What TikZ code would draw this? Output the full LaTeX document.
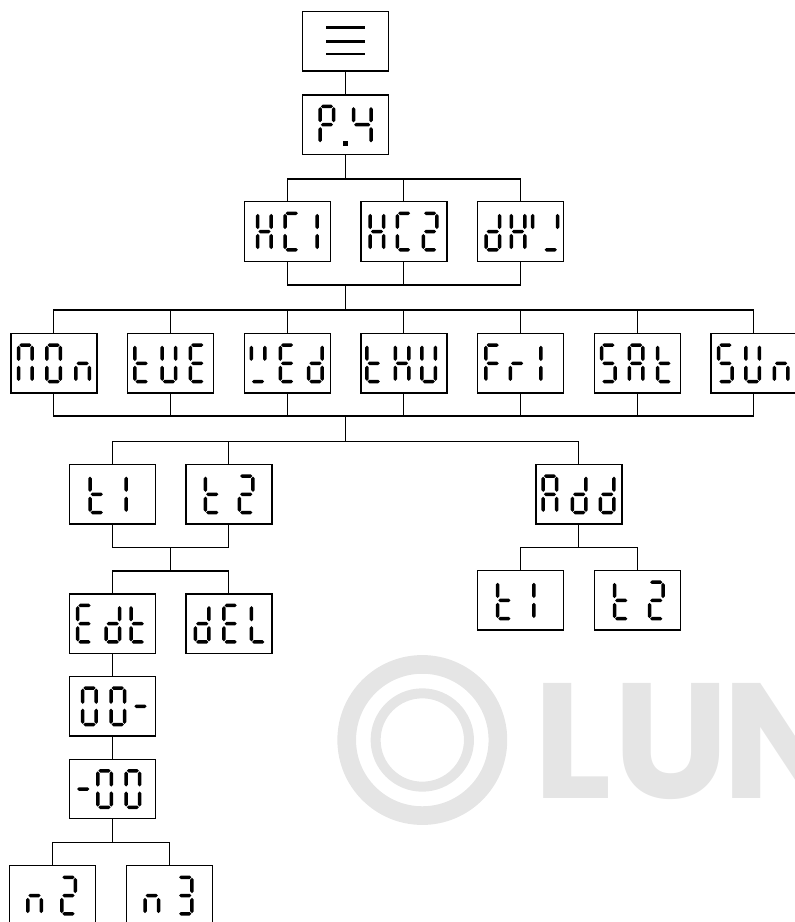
\documentclass[tikz,border=0pt]{standalone}
\usepackage{fontspec}
\newfontfamily\logofont{Poppins}
\usetikzlibrary{positioning, calc}
\tikzset{
    dispbox/.style={rectangle, draw, line width=1pt, minimum width=64.5pt, minimum height=44.6pt, inner sep=0pt},
    link/.style={line width=0.8pt},
    wmark/.style={draw=black!10},
    wmtext/.style={text=black!10, inner sep=0pt, anchor=base west, font=\logofont\bfseries\fontsize{123}{123}\selectfont}
}

% seven segment glyphs (reference pixels, relative to the box centre)
\def\segh{1.75}   % half stroke
\def\seggap{2.4}  % gap at the segment ends
\newcommand{\hseg}[3]{\fill ({#1},{#3}) -- ({#1+\segh},{#3-\segh}) -- ({#2-\segh},{#3-\segh}) -- ({#2},{#3}) -- ({#2-\segh},{#3+\segh}) -- ({#1+\segh},{#3+\segh}) -- cycle;}
\newcommand{\vseg}[3]{\fill ({#1},{#2}) -- ({#1+\segh},{#2+\segh}) -- ({#1+\segh},{#3-\segh}) -- ({#1},{#3}) -- ({#1-\segh},{#3-\segh}) -- ({#1-\segh},{#2+\segh}) -- cycle;}
\newcommand{\ssa}{\hseg{\gL+\seggap}{\gR-\seggap}{-20+\segh}}
\newcommand{\ssd}{\hseg{\gL+\seggap}{\gR-\seggap}{20-\segh}}
\newcommand{\ssg}{\hseg{\gL+\seggap}{\gR-\seggap}{0}}
\newcommand{\ssf}{\vseg{\gL+\segh}{-20+\seggap}{-\seggap}}
\newcommand{\sse}{\vseg{\gL+\segh}{\seggap}{20-\seggap}}
\newcommand{\ssb}{\vseg{\gR-\segh}{-20+\seggap}{-\seggap}}
\newcommand{\ssc}{\vseg{\gR-\segh}{\seggap}{20-\seggap}}
% #1 left edge, #2 width, #3 segments
\newcommand{\glyph}[3]{\pgfmathsetmacro\gL{#1}\pgfmathsetmacro\gR{#1+#2}\foreach \sg in {#3}{\csname ss\sg\endcsname}}
\newcommand{\dgZero}[1]{\glyph{#1}{17}{a,b,c,d,e,f}}
\newcommand{\dgOne}[1]{\glyph{#1}{4}{b,c}}
\newcommand{\dgTwo}[1]{\glyph{#1}{17}{a,b,d,e,g}}
\newcommand{\dgThree}[1]{\glyph{#1}{17}{a,b,c,d,g}}
\newcommand{\dgFour}[1]{\glyph{#1}{21}{b,c,f,g}}
\newcommand{\dgA}[1]{\glyph{#1}{17}{a,b,c,e,f,g}}
\newcommand{\dgC}[1]{\glyph{#1}{17}{a,d,e,f}}
\newcommand{\dgd}[1]{\glyph{#1}{17}{b,c,d,e,g}}
\newcommand{\dgE}[1]{\glyph{#1}{17}{a,d,e,f,g}}
\newcommand{\dgF}[1]{\glyph{#1}{17}{a,e,f,g}}
\newcommand{\dgH}[1]{\glyph{#1}{17}{b,c,e,f,g}}
\newcommand{\dgL}[1]{\glyph{#1}{17}{d,e,f}}
\newcommand{\dgM}[1]{\glyph{#1}{17}{a,b,c,e,f}}
\newcommand{\dgn}[1]{\glyph{#1}{17}{c,e,g}}
\newcommand{\dgP}[1]{\glyph{#1}{17}{a,b,e,f,g}}
\newcommand{\dgr}[1]{\glyph{#1}{17}{e,g}}
\newcommand{\dgS}[1]{\glyph{#1}{17}{a,c,d,f,g}}
\newcommand{\dgt}[1]{\glyph{#1}{17}{d,e,f,g}}
\newcommand{\dgU}[1]{\glyph{#1}{17}{b,c,d,e,f}}
\newcommand{\dgW}[1]{\glyph{#1}{17}{b,d,f}}
\newcommand{\dgDash}[1]{\glyph{#1}{17}{g}}
\newcommand{\dgDot}[1]{\fill (#1,16.6) rectangle ++(5.3,4.4);}
\newcommand{\disp}[2]{\begin{scope}[shift={(#1.center)}]#2\end{scope}}

\begin{document}
\begin{tikzpicture}[x=0.75pt, y=-0.75pt]
    \useasboundingbox (0,0) rectangle (794,922);
    \def\cx{345.6}
    \def\u{58.33}

    % Watermark
    \draw[wmark, line width=14pt] (422.3,740) circle [radius=56.7pt];
    \draw[wmark, line width=7.5pt] (422.3,740) circle [radius=35pt];
    \node (wmL) [wmtext] at (533,798) {L};
    \node (wmU) [wmtext] at (613,798) {U};
    \node (wmN) [wmtext] at (722,798) {N};

    % Menu and parameter
    \node (menu) [dispbox] at (\cx,41.3) {};
    \node (p4) [dispbox] at (\cx,124.7) {};

    % Circuits
    \node (hc1) [dispbox] at ({\cx-\u},231.5) {};
    \node (hc2) [dispbox] at ({\cx+\u},231.5) {};
    \node (dhw) [dispbox] at ({\cx+3*\u},231.5) {};

    % Week days
    \node (mon) [dispbox] at ({\cx-5*\u},363.3) {};
    \node (tue) [dispbox] at ({\cx-3*\u},363.3) {};
    \node (wed) [dispbox] at ({\cx-\u},363.3) {};
    \node (thu) [dispbox] at ({\cx+\u},363.3) {};
    \node (fri) [dispbox] at ({\cx+3*\u},363.3) {};
    \node (sat) [dispbox] at ({\cx+5*\u},363.3) {};
    \node (sun) [dispbox] at ({\cx+7*\u},363.3) {};

    % Time slots
    \node (tone) [dispbox] at ({\cx-4*\u},494.3) {};
    \node (ttwo) [dispbox] at ({\cx-2*\u},494.3) {};
    \node (add) [dispbox] at ({\cx+4*\u},494.3) {};
    \node (aone) [dispbox] at ({\cx+3*\u},600.4) {};
    \node (atwo) [dispbox] at ({\cx+5*\u},600.4) {};
    \node (edt) [dispbox] at ({\cx-4*\u},623.7) {};
    \node (del) [dispbox] at ({\cx-2*\u},623.7) {};
    \node (zzd) [dispbox] at ({\cx-4*\u},706.3) {};
    \node (dzz) [dispbox] at ({\cx-4*\u},789) {};
    \node (ntwo) [dispbox] at (52.2,895.5) {};
    \node (nthree) [dispbox] at (169.5,895.5) {};

    % Display contents
    \begin{scope}[shift={(menu.center)}, line width=2pt]
        \foreach \yy in {-13.6,0,12.7} \draw (-19.5,\yy) -- (19.5,\yy);
    \end{scope}
    \disp{p4}{\dgP{-27.2}\dgDot{-2.8}\dgFour{6.2}}
    \disp{hc1}{\dgH{-31.3}\dgC{-4}\dgOne{27.7}}
    \disp{hc2}{\dgH{-35.5}\dgC{-8.3}\dgTwo{17.7}}
    \disp{dhw}{\dgd{-36.3}\dgH{-11}\glyph{10.4}{4}{f}\glyph{21.7}{17}{b,d}}
    \disp{mon}{\dgM{-37.1}\dgZero{-8.8}\dgn{20.2}}
    \disp{tue}{\dgt{-37.5}\dgU{-10.2}\dgE{18.1}}
    \disp{wed}{\dgW{-37.7}\dgE{-8.7}\dgd{19.7}}
    \disp{thu}{\dgt{-38.7}\dgH{-10.4}\dgU{16.3}}
    \disp{fri}{\dgF{-36.4}\dgr{-12}\dgOne{18}}
    \disp{sat}{\dgS{-37.3}\dgA{-9.6}\dgt{18.7}}
    \disp{sun}{\dgS{-37}\dgU{-9.7}\dgn{18.7}}
    \disp{tone}{\dgt{-24}\dgOne{11.7}}
    \disp{ttwo}{\dgt{-25.2}\dgTwo{8.8}}
    \disp{add}{\dgA{-37.5}\dgd{-8.2}\dgd{19.8}}
    \disp{aone}{\dgt{-24.7}\dgOne{11}}
    \disp{atwo}{\dgt{-24.5}\dgTwo{10.5}}
    \disp{edt}{\dgE{-36.3}\dgd{-8}\dgt{17}}
    \disp{del}{\dgd{-35.2}\dgE{-6.8}\dgL{20.8}}
    \disp{zzd}{\dgZero{-31.3}\dgZero{-3}\dgDash{19.7}}
    \disp{dzz}{\dgDash{-37.6}\dgZero{-16.2}\dgZero{12.1}}
    \disp{ntwo}{\dgn{-26.2}\dgTwo{7.8}}
    \disp{nthree}{\dgn{-26.2}\dgThree{7.2}}

    % Connectors
    \coordinate (fk1) at ($(p4.south)+(0,23.9)$);
    \coordinate (jn1) at (\cx,285);
    \coordinate (fk2) at (\cx,310);
    \coordinate (jn2) at (\cx,416);
    \coordinate (fk3) at (\cx,441.7);
    \coordinate (jn3) at ({\cx-3*\u},547.3);
    \coordinate (fk4) at ({\cx-3*\u},571);
    \coordinate (fk5) at ({\cx+4*\u},547.3);
    \coordinate (fk6) at ($(dzz.south)+(0,23.5)$);

    \draw [link] (menu) -- (p4);
    \draw [link] (p4) -- (fk1);
    \foreach \n in {hc1,hc2,dhw} {
        \draw [link] (\n.north) |- (fk1);
        \draw [link] (\n.south) |- (jn1);
    }
    \draw [link] (jn1) -- (fk2);
    \foreach \n in {mon,tue,wed,thu,fri,sat,sun} {
        \draw [link] (\n.north) |- (fk2);
        \draw [link] (\n.south) |- (jn2);
    }
    \draw [link] (jn2) -- (fk3);
    \foreach \n in {tone,ttwo,add} \draw [link] (\n.north) |- (fk3);
    \foreach \n in {tone,ttwo} \draw [link] (\n.south) |- (jn3);
    \draw [link] (jn3) -- (fk4);
    \foreach \n in {edt,del} \draw [link] (\n.north) |- (fk4);
    \draw [link] (add) -- (fk5);
    \foreach \n in {aone,atwo} \draw [link] (\n.north) |- (fk5);
    \draw [link] (edt) -- (zzd);
    \draw [link] (zzd) -- (dzz);
    \draw [link] (dzz) -- (fk6);
    \foreach \n in {ntwo,nthree} \draw [link] (\n.north) |- (fk6);
\end{tikzpicture}
\end{document}
